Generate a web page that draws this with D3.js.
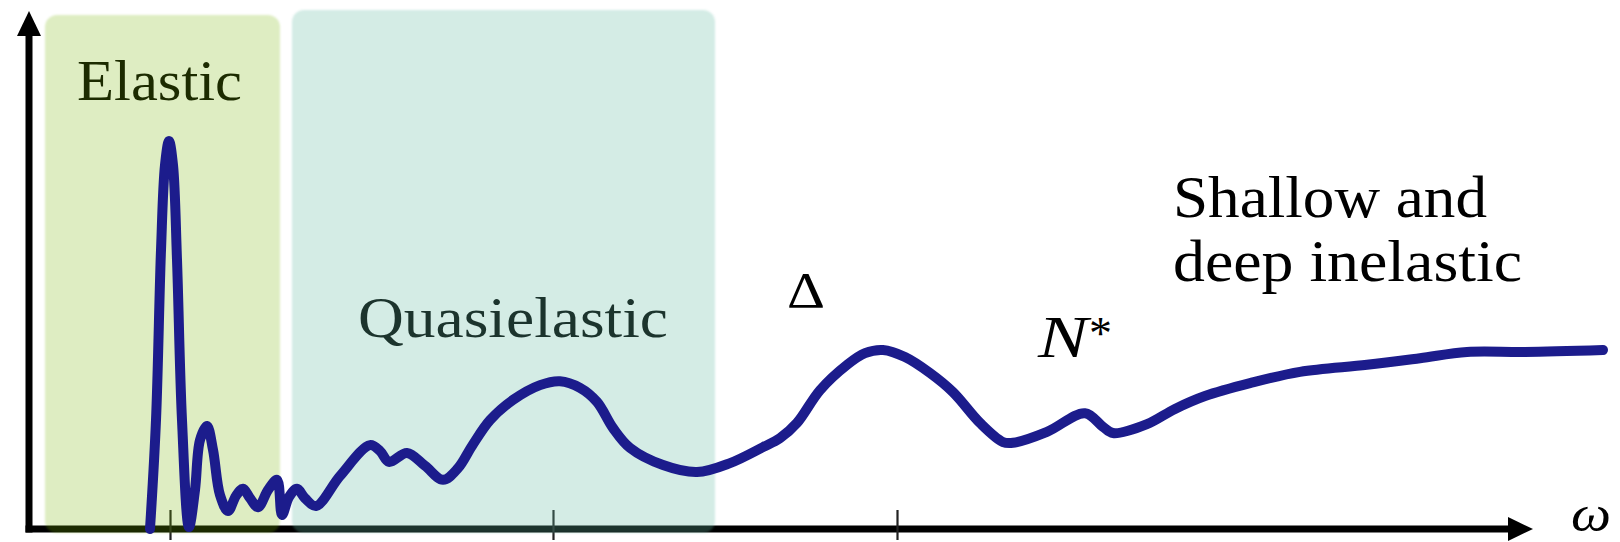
<!DOCTYPE html>
<html>
<head>
<meta charset="utf-8">
<script src="https://cdn.jsdelivr.net/npm/d3@7"></script>
<style>
  html, body { margin: 0; padding: 0; background: #ffffff; }
  svg { display: block; }
</style>
</head>
<body>
<svg id="chart" width="1620" height="542"></svg>
<script>
// Energy transfer ω (arbitrary units) and the schematic inclusive response.
const omega = [
  12.1, 12.7, 13.2, 13.6, 14.0, 14.4, 14.8, 15.3, 16.0, 16.6,
  17.1, 17.8, 18.4, 19.1, 19.9, 20.7, 21.4, 22.1, 22.9, 23.9,
  24.8, 25.3, 26.0, 26.8, 27.6, 28.7, 31.1, 34.1, 35.1, 36.0,
  37.8, 39.6, 41.4, 42.9, 44.3, 46.1, 48.4, 51.1, 53.1, 55.1,
  56.8, 58.4, 60.1, 63.4, 66.8, 70.1, 73.4, 75.1, 76.8, 79.1,
  81.8, 83.6, 85.4, 87.6, 90.1, 92.4, 95.1, 97.4, 98.4, 101.8,
  105.6, 107.4, 108.4, 111.8, 114.6, 117.6, 122.1, 127.1, 133.8, 139.1,
  143.8, 149.6, 157.4
];
const response = [
  0.000, 0.279, 0.715, 0.933, 0.995, 0.933, 0.690, 0.279, 0.005, 0.100,
  0.228, 0.264, 0.203, 0.087, 0.046, 0.085, 0.103, 0.079, 0.056, 0.100,
  0.126, 0.036, 0.082, 0.103, 0.079, 0.059, 0.136, 0.215, 0.200, 0.172,
  0.195, 0.162, 0.126, 0.156, 0.213, 0.279, 0.331, 0.369, 0.379, 0.362,
  0.326, 0.259, 0.208, 0.164, 0.146, 0.169, 0.210, 0.233, 0.272, 0.356,
  0.421, 0.451, 0.459, 0.441, 0.400, 0.351, 0.272, 0.223, 0.221, 0.249,
  0.297, 0.262, 0.246, 0.269, 0.308, 0.341, 0.374, 0.403, 0.421, 0.438,
  0.454, 0.454, 0.459
];

// Tick marks on the ω axis (unlabelled).
const tickOmega = [14.1, 52.4, 86.8];

// Shaded kinematic regions.
const regionNames = ["Elastic", "Quasielastic"];
const regionStart = [1.6, 26.3];
const regionEnd = [25.1, 68.6];

const svg = d3.select("#chart");

const x = d3.scaleLinear().domain([0, 150]).range([29, 1529]);
const y = d3.scaleLinear().domain([0, 1]).range([529, 139]);

const serif = "'Liberation Serif', 'Times New Roman', serif";
const ink = "#000000";

// ---- axes ----
const axisG = svg.append("g");
// vertical axis with arrow head
axisG.append("line")
  .attr("x1", x(0)).attr("x2", x(0))
  .attr("y1", y(0) + 3.5).attr("y2", 30)
  .attr("stroke", ink).attr("stroke-width", 7);
axisG.append("path")
  .attr("d", `M${x(0)},11 L${x(0) - 12},36 L${x(0) + 12},36 Z`)
  .attr("fill", ink);
// horizontal axis with arrow head
axisG.append("line")
  .attr("x1", x(0) - 3.5).attr("x2", 1512)
  .attr("y1", y(0)).attr("y2", y(0))
  .attr("stroke", ink).attr("stroke-width", 7);
axisG.append("path")
  .attr("d", `M1533,${y(0)} L1508,${y(0) - 12} L1508,${y(0) + 12} Z`)
  .attr("fill", ink);

// tick marks crossing the ω axis
const tickAxis = d3.axisBottom(x)
  .tickValues(tickOmega)
  .tickSize(30)
  .tickFormat("");
const tickG = svg.append("g")
  .attr("transform", `translate(0,${y(0) - 19})`)
  .call(tickAxis);
tickG.select(".domain").remove();
tickG.selectAll(".tick line").attr("stroke", "#222").attr("stroke-width", 2.2);

// region titles sit beneath the translucent shading
const regionTitle = [
  { x: 77, y: 100, len: 165, size: 57 },
  { x: 358, y: 337, len: 310, size: 58 }
];
svg.append("g").selectAll("text")
  .data(regionNames)
  .join("text")
  .attr("x", (d, i) => regionTitle[i].x)
  .attr("y", (d, i) => regionTitle[i].y)
  .attr("textLength", (d, i) => regionTitle[i].len)
  .attr("lengthAdjust", "spacingAndGlyphs")
  .attr("font-family", serif)
  .attr("font-size", (d, i) => regionTitle[i].size)
  .attr("fill", ink)
  .text(d => d);

// ---- translucent region shading ----
const defs = svg.append("defs");
defs.append("filter").attr("id", "soft")
  .attr("x", "-5%").attr("y", "-5%").attr("width", "110%").attr("height", "110%")
  .append("feGaussianBlur").attr("stdDeviation", 1.3);

const regionFill = ["rgb(117,179,12)", "rgb(100,186,161)"];
const regionAlpha = [0.24, 0.28];
const regionTop = [15, 10];
svg.append("g").attr("filter", "url(#soft)")
  .selectAll("rect")
  .data(regionNames)
  .join("rect")
  .attr("x", (d, i) => x(regionStart[i]))
  .attr("y", (d, i) => regionTop[i])
  .attr("width", (d, i) => x(regionEnd[i]) - x(regionStart[i]))
  .attr("height", (d, i) => 533 - regionTop[i])
  .attr("rx", 12).attr("ry", 12)
  .attr("fill", (d, i) => regionFill[i])
  .attr("fill-opacity", (d, i) => regionAlpha[i]);

// ---- response curve ----
const line = d3.line()
  .x((d, i) => x(omega[i]))
  .y((d, i) => y(response[i]))
  .curve(d3.curveCatmullRom.alpha(0.5));

svg.append("path")
  .datum(response)
  .attr("d", line)
  .attr("fill", "none")
  .attr("stroke", "#1c1c8c")
  .attr("stroke-width", 10)
  .attr("stroke-linejoin", "round")
  .attr("stroke-linecap", "round");

// ---- resonance and region labels outside the shading ----
svg.append("text")
  .attr("x", 787).attr("y", 307)
  .attr("font-family", serif).attr("font-size", 50)
  .attr("textLength", 38).attr("lengthAdjust", "spacingAndGlyphs")
  .attr("fill", ink).text("Δ");

svg.append("text")
  .attr("x", 1038).attr("y", 357)
  .attr("font-family", serif).attr("font-size", 59).attr("font-style", "italic")
  .attr("textLength", 50).attr("lengthAdjust", "spacingAndGlyphs")
  .attr("fill", ink).text("N");
svg.append("text")
  .attr("x", 1089).attr("y", 349)
  .attr("font-family", serif).attr("font-size", 46)
  .attr("fill", ink).text("*");

svg.append("text")
  .attr("x", 1173).attr("y", 217)
  .attr("font-family", serif).attr("font-size", 60)
  .attr("textLength", 314).attr("lengthAdjust", "spacingAndGlyphs")
  .attr("fill", ink).text("Shallow and");
svg.append("text")
  .attr("x", 1173).attr("y", 281)
  .attr("font-family", serif).attr("font-size", 60)
  .attr("textLength", 349).attr("lengthAdjust", "spacingAndGlyphs")
  .attr("fill", ink).text("deep inelastic");

// axis label
svg.append("text")
  .attr("x", 1571).attr("y", 531)
  .attr("font-family", serif).attr("font-size", 50).attr("font-style", "italic")
  .attr("textLength", 40).attr("lengthAdjust", "spacingAndGlyphs")
  .attr("fill", ink).text("ω");
</script>
</body>
</html>
